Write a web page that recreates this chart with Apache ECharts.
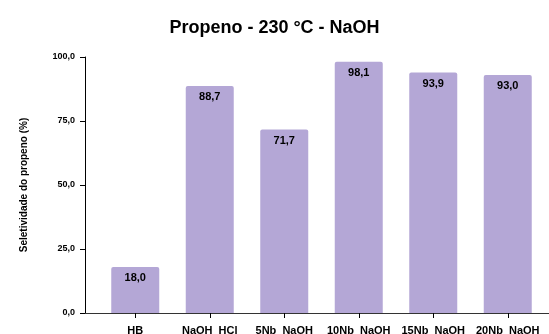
<!DOCTYPE html>
<html><head><meta charset="utf-8">
<script src="https://cdn.jsdelivr.net/npm/echarts@6/dist/echarts.min.js"></script>
<style>html,body{margin:0;padding:0;background:#fff}#c{width:549px;height:334px}</style>
</head><body><div id="c"></div>
<script>
const titleText = 'Propeno - 230 °C - NaOH';
const yAxisName = 'Seletividade do propeno (%)';
const categories = ['HB', 'NaOH_HCl', '5Nb_NaOH', '10Nb_NaOH', '15Nb_NaOH', '20Nb_NaOH'];
const selectivity = [18.0, 88.7, 71.7, 98.1, 93.9, 93.0];
const yTicks = [0, 25, 50, 75, 100];

const fmt = v => Number(v).toFixed(1).replace('.', ',');
const font = 'Liberation Sans, Arial, sans-serif';
const chart = echarts.init(document.getElementById('c'), null, {renderer: 'canvas'});
const yBase = {
  type: 'value', min: yTicks[0], max: yTicks[yTicks.length - 1], interval: 25,
  gridIndex: 0, offset: 13, splitLine: {show: false}
};
chart.setOption({
  animation: false,
  title: {text: titleText, left: 'center', top: 14,
    textStyle: {fontFamily: font, fontSize: 18, fontWeight: 'bold', color: '#000'}},
  grid: [
    {left: 98, right: 4, top: 57, bottom: 21, containLabel: false, outerBoundsMode: 'none'},
    {left: 85, right: 0, top: 57, bottom: 21, containLabel: false, outerBoundsMode: 'none'}
  ],
  xAxis: [
    {type: 'category', data: categories, gridIndex: 0,
      axisLine: {show: true, lineStyle: {color: '#333', width: 1}},
      axisTick: {show: true, alignWithLabel: true, inside: false, length: 5, lineStyle: {color: '#000'}},
      axisLabel: {margin: 12, fontFamily: font, fontSize: 11, fontWeight: 'bold', color: '#000', interval: 0}},
    {type: 'category', data: categories, gridIndex: 0, position: 'bottom',
      axisLine: {show: false},
      axisTick: {show: true, alignWithLabel: true, inside: true, length: 5, lineStyle: {color: '#000'}},
      axisLabel: {show: false}},
    {type: 'value', gridIndex: 1, min: 0, max: 1,
      axisLine: {show: true, onZero: false, lineStyle: {color: '#333', width: 1}},
      axisTick: {show: false}, axisLabel: {show: false}, splitLine: {show: false}}
  ],
  yAxis: [
    Object.assign({}, yBase, {
      name: yAxisName, nameLocation: 'middle', nameGap: 56, nameRotate: 90,
      nameTextStyle: {fontFamily: font, fontSize: 10, fontWeight: 'bold', color: '#000'},
      axisLine: {show: true, lineStyle: {color: '#000', width: 1}},
      axisTick: {show: true, inside: false, length: 5, lineStyle: {color: '#000'}},
      axisLabel: {margin: 10, fontFamily: font, fontSize: 9, fontWeight: 'bold', color: '#000', formatter: fmt}}),
    Object.assign({}, yBase, {
      axisLine: {show: false},
      axisTick: {show: true, inside: true, length: 5, lineStyle: {color: '#000'}},
      axisLabel: {show: false}}),
    {type: 'value', gridIndex: 1, min: 0, max: 1, show: false}
  ],
  series: [{
    type: 'bar', data: selectivity, xAxisIndex: 0, yAxisIndex: 0,
    barWidth: 48,
    itemStyle: {color: '#b4a7d6', borderRadius: [2, 2, 0, 0]},
    label: {show: true, position: 'insideTop', distance: 6, formatter: p => fmt(p.value),
      fontFamily: font, fontSize: 11, fontWeight: 'bold', color: '#000'}
  }]
});
</script></body></html>
